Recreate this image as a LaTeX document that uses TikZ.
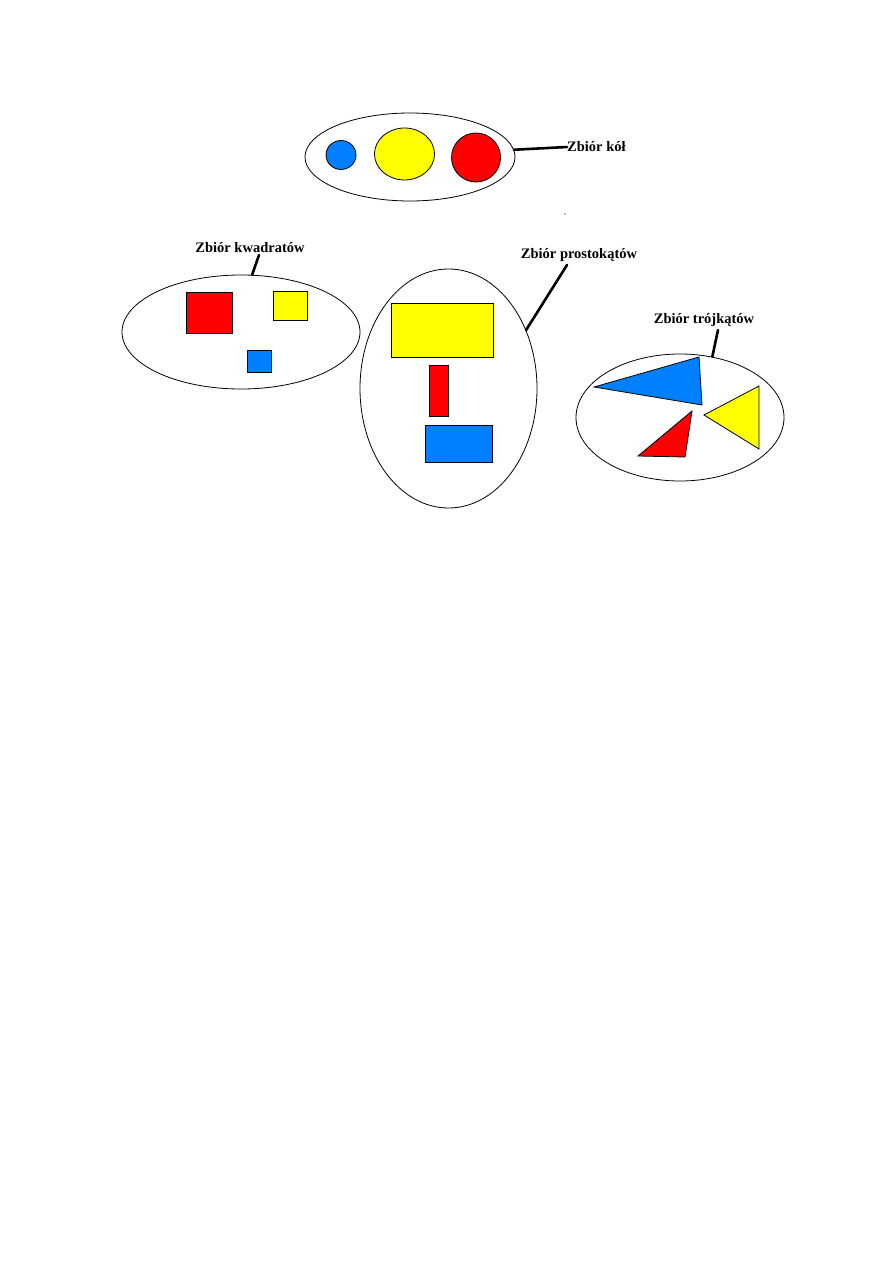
\documentclass[tikz,border=0pt]{standalone}
\usepackage{fontspec}
\setmainfont{Liberation Serif}
\usetikzlibrary{shapes.geometric}
\definecolor{sblue}{HTML}{0080FF}
\definecolor{syellow}{HTML}{FFFF00}
\definecolor{sred}{HTML}{FF0000}
\tikzset{
  setell/.style={ellipse, draw=black, line width=0.8pt, inner sep=0pt},
  shp/.style={draw=black, line width=0.8pt, inner sep=0pt},
  lbl/.style={font=\bfseries\fontsize{14.5}{16}\selectfont, inner sep=0pt},
  conn/.style={line width=2.6pt, line cap=round}
}
\begin{document}
\begin{tikzpicture}[x=1pt,y=-1pt]
\useasboundingbox[fill=white] (0,0) rectangle (893,1263);

% --- Zbior kol
\node[setell, minimum width=210pt, minimum height=88pt] (eK) at (410,157) {};
\node[shp, ellipse, fill=sblue, minimum width=30pt, minimum height=29pt] (k1) at (341,155) {};
\node[shp, ellipse, fill=syellow, minimum width=60pt, minimum height=52pt] (k2) at (404.5,154) {};
\node[shp, circle, fill=sred, minimum size=49pt] (k3) at (476,157.5) {};
\node[lbl, anchor=west] (lK) at (567,147) {Zbiór kół};
\draw[conn] (eK.4) -- (lK.west);
\fill (565,214) circle (0.6pt);

% --- Zbior kwadratow
\node[setell, minimum width=238pt, minimum height=114pt] (eKw) at (241,332) {};
\node[shp, fill=sred, minimum width=46pt, minimum height=41pt, anchor=north west] (q1) at (186,292) {};
\node[shp, fill=syellow, minimum width=34pt, minimum height=29pt, anchor=north west] (q2) at (273,291) {};
\node[shp, fill=sblue, minimum width=24pt, minimum height=22pt, anchor=north west] (q3) at (247,350) {};
\node[lbl] (lKw) at (250,248) {Zbiór kwadratów};
\coordinate (cKw) at (259,255);
\draw[conn] (cKw) -- (eKw.79);

% --- Zbior prostokatow
\node[setell, minimum width=177pt, minimum height=239pt] (eP) at (448.5,388.5) {};
\node[shp, fill=syellow, minimum width=102pt, minimum height=54pt, anchor=north west] (p1) at (391,303) {};
\node[shp, fill=sred, minimum width=19pt, minimum height=51pt, anchor=north west] (p2) at (429,365) {};
\node[shp, fill=sblue, minimum width=67pt, minimum height=37pt, anchor=north west] (p3) at (425,425) {};
\node[lbl] (lP) at (579,255) {Zbiór prostokątów};
\coordinate (cP) at (567,265);
\draw[conn] (cP) -- (eP.37);

% --- Zbior trojkatow
\node[setell, minimum width=208pt, minimum height=127pt] (eT) at (680,417.5) {};
\draw[shp, fill=sblue] (594,387) -- (699,357) -- (702,405) -- cycle;
\draw[shp, fill=sred] (692,411) -- (638,456) -- (685,457) -- cycle;
\draw[shp, fill=syellow] (704,415) -- (759,386) -- (759,449) -- cycle;
\node[lbl] (lT) at (704,320) {Zbiór trójkątów};
\coordinate (cT) at (718,330);
\draw[conn] (cT) -- (eT.62);
\end{tikzpicture}
\end{document}
